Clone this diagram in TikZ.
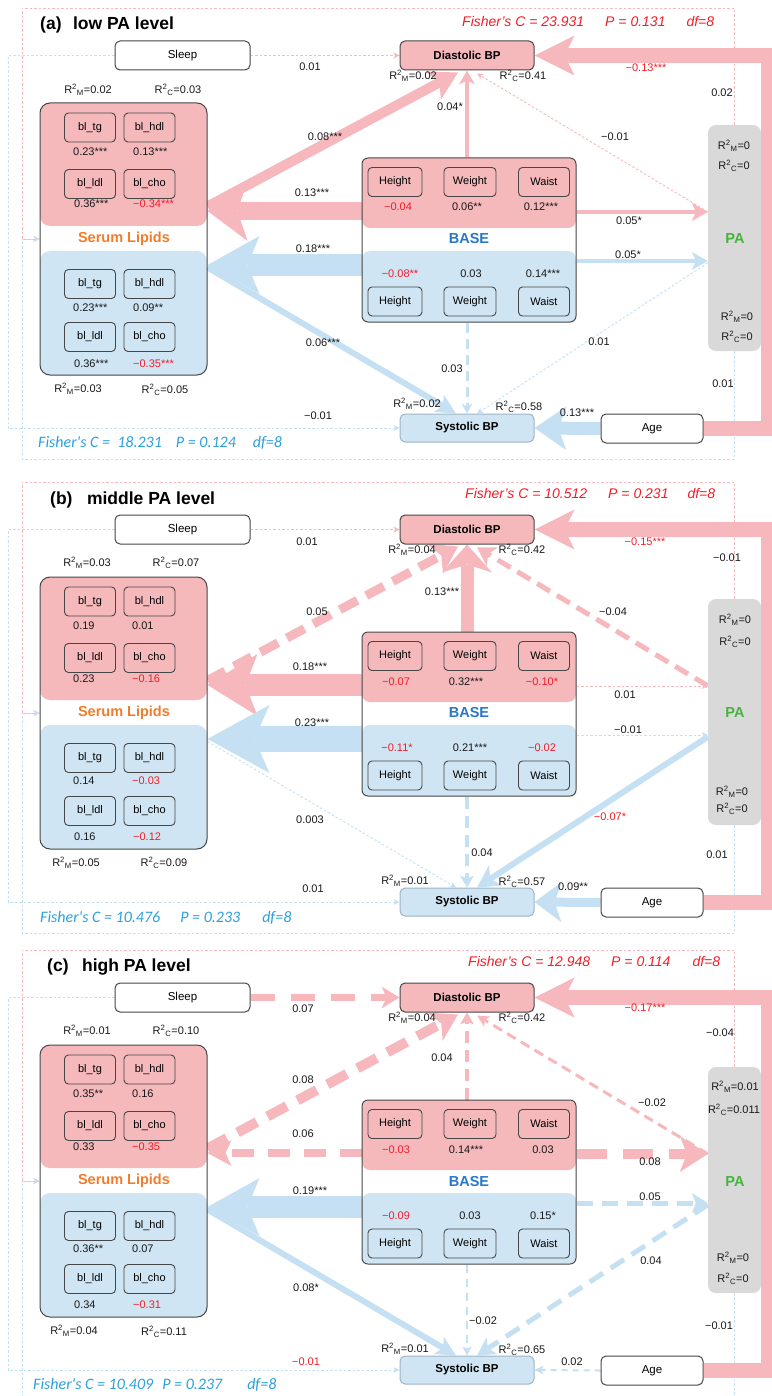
\documentclass[tikz,border=0pt]{standalone}
\usepackage{fontspec}
\setmainfont{Liberation Sans}
\newfontfamily\calib{Carlito}
\usetikzlibrary{arrows.meta}
\definecolor{pkfill}{RGB}{245,185,188}
\definecolor{blfill}{RGB}{207,229,243}
\definecolor{pkarr}{RGB}{246,184,188}
\definecolor{blarr}{RGB}{196,224,242}
\definecolor{redtxt}{RGB}{240,30,40}
\definecolor{bluetxt}{RGB}{45,160,220}
\definecolor{basetxt}{RGB}{40,120,200}
\definecolor{lipidtxt}{RGB}{240,125,45}
\definecolor{patxt}{RGB}{70,180,60}
\definecolor{pagray}{RGB}{217,217,217}
\definecolor{edge}{RGB}{70,70,70}
\definecolor{sysedge}{RGB}{160,180,195}
\pgfdeclarelayer{bg}
\pgfsetlayers{bg,main}
\newcommand\RM[1]{R\textsuperscript{2}\textsubscript{M}=#1}
\newcommand\RC[1]{R\textsuperscript{2}\textsubscript{C}=#1}
\tikzset{
  box/.style={rounded corners=5pt, line width=1pt, inner sep=0pt, minimum height=29pt,
    font=\fontsize{11.5}{13}\selectfont},
  plainbox/.style={box, draw=edge, fill=white},
  diabox/.style={box, draw=edge, fill=pkfill, minimum width=134pt, font=\fontsize{11.5}{13}\selectfont\bfseries},
  sysbox/.style={box, draw=sysedge, fill=blfill, minimum width=134pt, minimum height=28pt,
    font=\fontsize{11.5}{13}\selectfont\bfseries},
  group/.style={draw=edge, line width=1pt, inner sep=0pt},
  grouptitle/.style={inner sep=0pt, font=\fontsize{14.5}{16}\selectfont\bfseries},
  cell/.style={draw=edge, rounded corners=4pt, line width=0.9pt, inner sep=0pt, minimum width=51pt,
    minimum height=29pt, font=\fontsize{11}{13}\selectfont},
  lbl/.style={inner sep=0pt, font=\fontsize{11}{12}\selectfont, text=black!90},
  neg/.style={lbl, text=redtxt},
  title/.style={anchor=west, inner sep=0pt, font=\fontsize{17.5}{20}\selectfont\bfseries},
  fisherR/.style={anchor=west, inner sep=0pt, text=redtxt, font=\fontsize{14}{16}\selectfont\itshape},
  fisherB/.style={anchor=west, inner sep=0pt, text=bluetxt, font=\calib\fontsize{16}{18}\selectfont\itshape},
  pk/.style={draw=pkarr},
  bl/.style={draw=blarr},
  hd/.style n args={3}{-{Stealth[length=#1pt,width=#2pt,inset=#3pt,line width=0pt]}},
  dots/.style={line width=0.9pt, dash pattern=on 2.5pt off 2pt, hd={6}{6}{1.5}},
  dsh/.style 2 args={dash pattern=on #1pt off #2pt},
}
% boxes shared by the three panels; #1 is the name suffix
\newcommand\panelnodes[1]{%
  \coordinate (lx#1) at (8,240);
  \coordinate (rx#1) at (768,240);
  \coordinate (ftl#1) at (22,8);
  \coordinate (fbl#1) at (22,459);
  \coordinate (ypk#1) at (0,211);
  \coordinate (ybl#1) at (0,265);
  \coordinate (ypp#1) at (0,212);
  \coordinate (ybb#1) at (0,261);
  \node[plainbox, minimum width=135pt] (sl#1) at (182.5,55.5) {Sleep};
  \node[diabox] (dia#1) at (467,55.5) {Diastolic BP};
  \node[sysbox] (sys#1) at (467,428) {Systolic BP};
  \node[plainbox, minimum width=102pt] (age#1) at (652,428.5) {Age};
  % serum lipids
  \fill[pkfill, rounded corners=10pt] (40,103) rectangle (207,226);
  \fill[blfill, rounded corners=10pt] (40,251) rectangle (207,375);
  \node[group, rounded corners=10pt, minimum width=167pt, minimum height=272pt] (lip#1) at (123.5,239) {};
  \node[grouptitle, text=lipidtxt] (lipt#1) at (124,239) {Serum Lipids};
  \node[cell] (tgp#1) at (90,127.5) {bl\_tg};
  \node[cell] (hdp#1) at (149.5,127.5) {bl\_hdl};
  \node[cell] (ldp#1) at (90,184) {bl\_ldl};
  \node[cell] (chp#1) at (149.5,184) {bl\_cho};
  \node[cell] (tgb#1) at (90,284) {bl\_tg};
  \node[cell] (hdb#1) at (149.5,284) {bl\_hdl};
  \node[cell] (ldb#1) at (90,337) {bl\_ldl};
  \node[cell] (chb#1) at (149.5,337) {bl\_cho};
  % anthropometric base
  \fill[pkfill, rounded corners=8pt] (362,158) rectangle (576,228);
  \fill[blfill, rounded corners=8pt] (362,251) rectangle (576,322);
  \node[group, rounded corners=6pt, minimum width=214pt, minimum height=164pt] (base#1) at (469,240) {};
  \node[grouptitle, text=basetxt] (baset#1) at (469,239) {BASE};
  \node[cell, minimum width=54pt] (htp#1) at (395,182) {Height};
  \node[cell, minimum width=52pt] (wep#1) at (470,182) {Weight};
  \node[cell] (wap#1) at (544,182) {Waist};
  \node[cell, minimum width=54pt] (htb#1) at (395,301.5) {Height};
  \node[cell, minimum width=52pt] (web#1) at (470,301.5) {Weight};
  \node[cell] (wab#1) at (544,301.5) {Waist};
  % physical activity
  \node[fill=pagray, rounded corners=8pt, minimum width=53pt, minimum height=226pt, inner sep=0pt] (pa#1) at (734.5,238) {};
  \node[grouptitle, text=patxt] (pat#1) at (735,239) {PA};
}
\begin{document}
\begin{tikzpicture}[x=1pt,y=-1pt]
\useasboundingbox (0,0) rectangle (771,1396);

% ---------------- (a) low PA level ----------------
\begin{scope}
\panelnodes{a}
\node[title] (tta) at (40,25) {(a)\hspace{11.5pt}low PA level};
\node[fisherR] (fisRa) at (462,22) {Fisher's C = 23.931\hspace{21pt}P = 0.131\hspace{21pt}df=8};
\node[fisherB] (fisBa) at (38,443) {Fisher's C =\ \ 18.231\hspace{14pt}P = 0.124\hspace{17pt}df=8};
\node[lbl] (r1a) at (88,90) {\RM{0.02}};
\node[lbl] (r2a) at (178,90) {\RC{0.03}};
\node[lbl] (r3a) at (78,389) {\RM{0.03}};
\node[lbl] (r4a) at (165,390) {\RC{0.05}};
\node[lbl] (r5a) at (413,76) {\RM{0.02}};
\node[lbl] (r6a) at (523,76) {\RC{0.41}};
\node[lbl] (r7a) at (417,404) {\RM{0.02}};
\node[lbl] (r8a) at (519,407) {\RC{0.58}};
\node[lbl] (r9a) at (734,146) {\RM{0}};
\node[lbl] (r10a) at (734,166) {\RC{0}};
\node[lbl] (r11a) at (737,317) {\RM{0}};
\node[lbl] (r12a) at (737,337) {\RC{0}};
\node[lbl,anchor=west] (v1a) at (73,152) {0.23***};
\node[lbl,anchor=west] (v2a) at (133,152) {0.13***};
\node[lbl,anchor=west] (v3a) at (74,204) {0.36***};
\node[neg,anchor=west] (v4a) at (133,204) {−0.34***};
\node[lbl,anchor=west] (v5a) at (73,308) {0.23***};
\node[lbl,anchor=west] (v6a) at (133,308) {0.09**};
\node[lbl,anchor=west] (v7a) at (74,364) {0.36***};
\node[neg,anchor=west] (v8a) at (133,364) {−0.35***};
\node[neg] (w1a) at (398,207) {−0.04};
\node[lbl] (w2a) at (467,207) {0.06**};
\node[lbl] (w3a) at (541,207) {0.12***};
\node[neg] (w4a) at (400,274) {−0.08**};
\node[lbl] (w5a) at (471,274) {0.03};
\node[lbl] (w6a) at (543,274) {0.14***};
\node[lbl] (l01a) at (310,67) {0.01};
\node[lbl] (l02a) at (318,416) {−0.01};
\node[lbl] (l03a) at (722,93) {0.02};
\node[lbl] (l04a) at (723,384) {0.01};
\node[neg] (l05a) at (646,68) {−0.13***};
\node[lbl] (l06a) at (577,413) {0.13***};
\node[lbl] (l07a) at (325,137) {0.08***};
\node[lbl] (l08a) at (312,193) {0.13***};
\node[lbl] (l09a) at (313,249) {0.18***};
\node[lbl] (l10a) at (323,343) {0.06***};
\node[lbl] (l11a) at (450,107) {0.04*};
\node[lbl] (l12a) at (452,369) {0.03};
\node[lbl] (l13a) at (615,137) {−0.01};
\node[lbl] (l14a) at (629,221) {0.05*};
\node[lbl] (l15a) at (628,255) {0.05*};
\node[lbl] (l16a) at (599,342) {0.01};
\begin{pgfonlayer}{bg}
\draw[pk, dots] (sla.east) -- (diaa.west);
\draw[bl, dots] (sla.west) -| (lxa) |- (sysa.west);
\draw[pk, dots] (paa.north) |- (ftla) |- (lipa.west);
\draw[bl, dots] (paa.south) |- (fbla) |- (lipa.west);
\draw[pk, line width=15pt, hd={40}{40}{10}] (agea.east) -| (rxa) |- (diaa.east);
\draw[bl, line width=13pt, hd={32}{44}{8}] (agea.west) -- (sysa.east);
\draw[pk, line width=10pt, hd={28}{32}{7}] ([yshift=-104pt]lipa.north east) -- ([xshift=-9pt,yshift=-2pt]diaa.south);
\draw[pk, line width=18pt, hd={40}{60}{10}] (basea.west |- ypka) -- (lipa.east |- ypka);
\draw[bl, line width=22pt, hd={52}{58}{12}] (basea.west |- ybla) -- (lipa.east |- ybla);
\draw[bl, line width=6pt, hd={20}{20}{5}] ([yshift=-165pt]lipa.north east) -- ([xshift=-11pt]sysa.north);
\draw[pk, line width=4pt, hd={14}{16}{4}] (basea.north -| diaa.south) -- (diaa.south);
\draw[bl, line width=3pt, dsh={10}{6}, hd={10}{11}{3}] (basea.south -| sysa.north) -- (sysa.north);
\draw[pk, dots] ([yshift=-87pt]paa.north west) -- ([xshift=10pt,yshift=-3pt]diaa.south);
\draw[pk, line width=4pt, hd={16}{18}{4}] (basea.east |- yppa) -- (paa.west |- yppa);
\draw[bl, line width=4pt, hd={16}{18}{4}] (basea.east |- ybba) -- (paa.west |- ybba);
\draw[bl, dots] ([yshift=-138pt]paa.north west) -- ([xshift=10pt]sysa.north);
\end{pgfonlayer}
\end{scope}

% ---------------- (b) middle PA level ----------------
\begin{scope}[shift={(0,474)}]
\panelnodes{b}
\node[title] (ttb) at (50,26) {(b)\hspace{14.5pt}middle PA level};
\node[fisherR] (fisRb) at (465,19) {Fisher's C = 10.512\hspace{21pt}P = 0.231\hspace{19pt}df=8};
\node[fisherB] (fisBb) at (40,444) {Fisher's C = 10.476\hspace{20pt}P = 0.233\hspace{22pt}df=8};
\node[lbl] (r1b) at (87,89) {\RM{0.03}};
\node[lbl] (r2b) at (176,89) {\RC{0.07}};
\node[lbl] (r3b) at (76,389) {\RM{0.05}};
\node[lbl] (r4b) at (164,389) {\RC{0.09}};
\node[lbl] (r5b) at (412,76) {\RM{0.04}};
\node[lbl] (r6b) at (522,76) {\RC{0.42}};
\node[lbl] (r7b) at (405,407) {\RM{0.01}};
\node[lbl] (r8b) at (522,408) {\RC{0.57}};
\node[lbl] (r9b) at (735,146) {\RM{0}};
\node[lbl] (r10b) at (735,168) {\RC{0}};
\node[lbl] (r11b) at (732,318) {\RM{0}};
\node[lbl] (r12b) at (732,335) {\RC{0}};
\node[lbl,anchor=west] (v1b) at (73,152) {0.19};
\node[lbl,anchor=west] (v2b) at (132,152) {0.01};
\node[lbl,anchor=west] (v3b) at (73,205) {0.23};
\node[neg,anchor=west] (v4b) at (132,205) {−0.16};
\node[lbl,anchor=west] (v5b) at (73,307) {0.14};
\node[neg,anchor=west] (v6b) at (132,307) {−0.03};
\node[lbl,anchor=west] (v7b) at (74,363) {0.16};
\node[neg,anchor=west] (v8b) at (133,363) {−0.12};
\node[neg] (w1b) at (396,208) {−0.07};
\node[lbl] (w2b) at (466,208) {0.32***};
\node[neg] (w3b) at (542,208) {−0.10*};
\node[neg] (w4b) at (397,274) {−0.11*};
\node[lbl] (w5b) at (470,274) {0.21***};
\node[neg] (w6b) at (542,274) {−0.02};
\node[lbl] (l01b) at (307,68) {0.01};
\node[lbl] (l02b) at (313,415) {0.01};
\node[lbl] (l03b) at (727,84) {−0.01};
\node[lbl] (l04b) at (717,381) {0.01};
\node[neg] (l05b) at (645,68) {−0.15***};
\node[lbl] (l06b) at (573,413) {0.09**};
\node[lbl] (l07b) at (317,138) {0.05};
\node[lbl] (l08b) at (310,193) {0.18***};
\node[lbl] (l09b) at (312,249) {0.23***};
\node[lbl] (l10b) at (310,346) {0.003};
\node[lbl] (l11b) at (442,118) {0.13***};
\node[lbl] (l12b) at (482,379) {0.04};
\node[lbl] (l13b) at (613,138) {−0.04};
\node[lbl] (l14b) at (625,221) {0.01};
\node[lbl] (l15b) at (628,256) {−0.01};
\node[neg] (l16b) at (610,343) {−0.07*};
\begin{pgfonlayer}{bg}
\draw[pk, dots] (slb.east) -- (diab.west);
\draw[bl, dots] (slb.west) -| (lxb) |- (sysb.west);
\draw[pk, dots] (pab.north) |- (ftlb) |- (lipb.west);
\draw[bl, dots] (pab.south) |- (fblb) |- (lipb.west);
\draw[pk, line width=15pt, hd={40}{40}{10}] (ageb.east) -| (rxb) |- (diab.east);
\draw[bl, line width=9pt, hd={27}{40}{7}] (ageb.west) -- (sysb.east);
\draw[pk, line width=9pt, dsh={20}{10}, hd={26}{34}{7}] ([yshift=-104pt]lipb.north east) -- ([xshift=-9pt,yshift=-2pt]diab.south);
\draw[pk, line width=22pt, hd={50}{62}{12}] (baseb.west |- ypkb) -- (lipb.east |- ypkb);
\draw[bl, line width=26pt, hd={62}{68}{15}] (baseb.west |- yblb) -- (lipb.east |- yblb);
\draw[bl, dots] ([yshift=-165pt]lipb.north east) -- ([xshift=-11pt]sysb.north);
\draw[pk, line width=13pt, hd={28}{50}{8}] (baseb.north -| diab.south) -- (diab.south);
\draw[bl, line width=4pt, dsh={12}{7}, hd={12}{14}{3}] (baseb.south -| sysb.north) -- (sysb.north);
\draw[pk, line width=5pt, dsh={15}{8}, hd={18}{22}{5}] ([yshift=-87pt]pab.north west) -- ([xshift=10pt,yshift=-3pt]diab.south);
\draw[pk, dots] (baseb.east |- yppb) -- (pab.west |- yppb);
\draw[bl, dots] (baseb.east |- ybbb) -- (pab.west |- ybbb);
\draw[bl, line width=6pt, hd={22}{24}{6}] ([yshift=-138pt]pab.north west) -- ([xshift=10pt]sysb.north);
\end{pgfonlayer}
\end{scope}

% ---------------- (c) high PA level ----------------
\begin{scope}[shift={(0,942)}]
\panelnodes{c}
\node[title] (ttc) at (47,25) {(c)\hspace{13.5pt}high PA level};
\node[fisherR] (fisRc) at (468,19) {Fisher's C = 12.948\hspace{21pt}P = 0.114\hspace{22pt}df=8};
\node[fisherB] (fisBc) at (33,443) {Fisher's C = 10.409\hspace{9pt}P = 0.237\hspace{25pt}df=8};
\node[lbl] (r1c) at (87,89) {\RM{0.01}};
\node[lbl] (r2c) at (176,89) {\RC{0.10}};
\node[lbl] (r3c) at (74,389) {\RM{0.04}};
\node[lbl] (r4c) at (164,390) {\RC{0.11}};
\node[lbl] (r5c) at (412,76) {\RM{0.04}};
\node[lbl] (r6c) at (522,76) {\RC{0.42}};
\node[lbl] (r7c) at (405,407) {\RM{0.01}};
\node[lbl] (r8c) at (522,408) {\RC{0.65}};
\node[lbl] (r9c) at (735,145) {\RM{0.01}};
\node[lbl] (r10c) at (734,168) {\RC{0.011}};
\node[lbl] (r11c) at (733,316) {\RM{0}};
\node[lbl] (r12c) at (733,337) {\RC{0}};
\node[lbl,anchor=west] (v1c) at (73,152) {0.35**};
\node[lbl,anchor=west] (v2c) at (132,152) {0.16};
\node[lbl,anchor=west] (v3c) at (73,205) {0.33};
\node[neg,anchor=west] (v4c) at (132,205) {−0.35};
\node[lbl,anchor=west] (v5c) at (73,307) {0.36**};
\node[lbl,anchor=west] (v6c) at (132,307) {0.07};
\node[lbl,anchor=west] (v7c) at (74,363) {0.34};
\node[neg,anchor=west] (v8c) at (133,363) {−0.31};
\node[neg] (w1c) at (396,208) {−0.03};
\node[lbl] (w2c) at (466,208) {0.14***};
\node[lbl] (w3c) at (543,208) {0.03};
\node[neg] (w4c) at (396,274) {−0.09};
\node[lbl] (w5c) at (470,274) {0.03};
\node[lbl] (w6c) at (543,274) {0.15*};
\node[lbl] (l01c) at (303,67) {0.07};
\node[neg] (l02c) at (306,420) {−0.01};
\node[lbl] (l03c) at (720,91) {−0.04};
\node[lbl] (l04c) at (719,384) {−0.01};
\node[neg] (l05c) at (645,66) {−0.17***};
\node[lbl] (l06c) at (572,420) {0.02};
\node[lbl] (l07c) at (303,138) {0.08};
\node[lbl] (l08c) at (303,192) {0.06};
\node[lbl] (l09c) at (310,249) {0.19***};
\node[lbl] (l10c) at (306,346) {0.08*};
\node[lbl] (l11c) at (442,116) {0.04};
\node[lbl] (l12c) at (483,379) {−0.02};
\node[lbl] (l13c) at (652,161) {−0.02};
\node[lbl] (l14c) at (650,220) {0.08};
\node[lbl] (l15c) at (650,255) {0.05};
\node[lbl] (l16c) at (651,319) {0.04};
\begin{pgfonlayer}{bg}
\draw[pk, line width=7pt, dsh={24}{16}, hd={18}{22}{5}] (slc.east) -- (diac.west);
\draw[bl, dots] (slc.west) -| (lxc) |- (sysc.west);
\draw[pk, dots] (pac.north) |- (ftlc) |- (lipc.west);
\draw[bl, dots] (pac.south) |- (fblc) |- (lipc.west);
\draw[pk, line width=15pt, hd={40}{40}{10}] (agec.east) -| (rxc) |- (diac.east);
\draw[bl, line width=2pt, dsh={6}{5}, hd={9}{9}{2}] (agec.west) -- (sysc.east);
\draw[pk, line width=10pt, dsh={22}{12}, hd={26}{32}{7}] ([yshift=-104pt]lipc.north east) -- ([xshift=-9pt,yshift=-2pt]diac.south);
\draw[pk, line width=8pt, dsh={22}{14}, hd={24}{26}{6}] (basec.west |- ypkc) -- (lipc.east |- ypkc);
\draw[bl, line width=22pt, hd={52}{58}{12}] (basec.west |- yblc) -- (lipc.east |- yblc);
\draw[bl, line width=6pt, hd={20}{20}{5}] ([yshift=-165pt]lipc.north east) -- ([xshift=-11pt]sysc.north);
\draw[pk, line width=4pt, dsh={12}{7}, hd={12}{14}{3}] (basec.north -| diac.south) -- (diac.south);
\draw[bl, line width=2pt, dsh={8}{6}, hd={9}{9}{2}] (basec.south -| sysc.north) -- (sysc.north);
\draw[pk, line width=3pt, dsh={10}{6}, hd={12}{12}{3}] ([yshift=-87pt]pac.north west) -- ([xshift=10pt,yshift=-3pt]diac.south);
\draw[pk, line width=10pt, dsh={30}{16}, hd={28}{36}{7}] (basec.east |- yppc) -- (pac.west |- yppc);
\draw[bl, line width=5pt, dsh={16}{9}, hd={16}{20}{4}] (basec.east |- ybbc) -- (pac.west |- ybbc);
\draw[bl, line width=5pt, dsh={16}{9}, hd={18}{20}{5}] ([yshift=-138pt]pac.north west) -- ([xshift=10pt]sysc.north);
\end{pgfonlayer}
\end{scope}
\end{tikzpicture}
\end{document}
